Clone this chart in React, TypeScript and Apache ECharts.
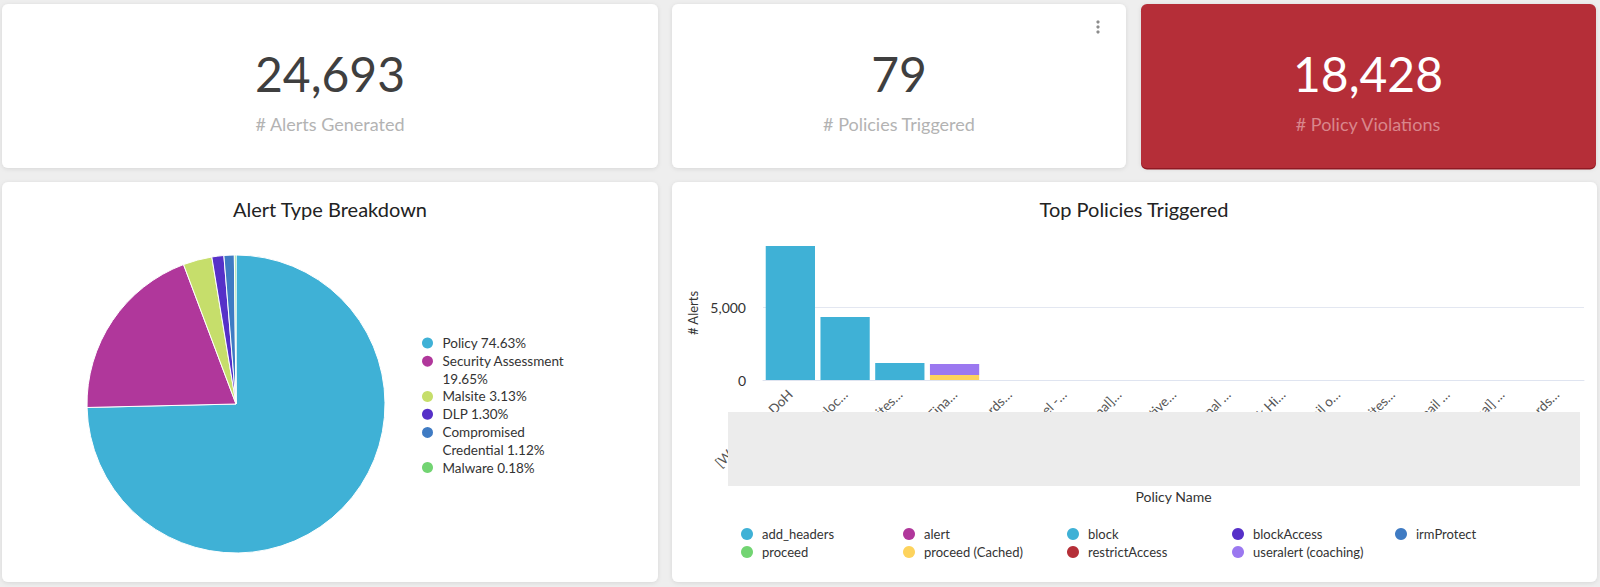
import React, { useEffect, useRef } from 'react';
import * as echarts from 'echarts';

// ---- KPI cards ----
const kpiValues = ['24,693', '79', '18,428'];
const kpiLabels = ['# Alerts Generated', '# Policies Triggered', '# Policy Violations'];

// ---- Alert Type Breakdown (pie) ----
const alertTypes = ['Policy', 'Security Assessment', 'Malsite', 'DLP', 'Compromised Credential', 'Malware'];
const alertCounts = [18428, 4851, 773, 321, 276, 44];
const alertColors = ['#3fb1d6', '#b0379b', '#c6de6b', '#5630c8', '#3f7bc3', '#72d472'];

// ---- Top Policies Triggered (stacked bars) ----
const policyNames = [
  '[Web] Block DoH',
  '[Web] IP Geolocation',
  '[Web] Bad Sites and Domains',
  '[Web] Warn Financial Services',
  '[DLP] Passwords in Files',
  '[CASB] Tunnel - Proxy',
  '[Web][Internal] Allow List',
  '[DLP] Sensitive Data',
  '[Web] Personal Email',
  '[CASB] Block High Risk Apps',
  '[Web] Webmail on Mobile',
  '[Web] Job Sites Access',
  '[DLP] To Gmail Accounts',
  '[DLP] [Global] Exfiltration',
  '[Web] Passwords in Forms',
];
const actions = [
  'add_headers', 'alert', 'block', 'blockAccess', 'irmProtect',
  'proceed', 'proceed (Cached)', 'restrictAccess', 'useralert (coaching)',
];
const actionColors = [
  '#3fb1d6', '#b0379b', '#3fb1d6', '#5630c8', '#3f7bc3',
  '#72d472', '#fdd35d', '#b52f38', '#9b78f0',
];
const addHeadersValues = [0, 0, 1165, 0, 0, 0, 0, 0, 0, 0, 0, 0, 0, 0, 0];
const alertValues = [0, 0, 0, 0, 0, 0, 3, 0, 0, 0, 2, 0, 0, 1, 0];
const blockValues = [9180, 4315, 0, 0, 0, 0, 0, 0, 0, 0, 0, 2, 0, 0, 0];
const blockAccessValues = [0, 0, 0, 0, 4, 0, 0, 3, 0, 0, 0, 0, 1, 0, 0];
const irmProtectValues = [0, 0, 0, 0, 0, 4, 0, 0, 0, 0, 0, 0, 0, 0, 0];
const proceedValues = [0, 0, 0, 0, 0, 0, 0, 0, 3, 0, 0, 0, 0, 0, 1];
const proceedCachedValues = [0, 0, 0, 340, 0, 0, 0, 0, 0, 0, 0, 0, 0, 0, 0];
const restrictAccessValues = [0, 0, 0, 0, 0, 0, 0, 0, 0, 2, 0, 0, 0, 0, 0];
const useralertValues = [0, 0, 0, 760, 0, 0, 0, 0, 0, 0, 0, 0, 0, 0, 0];
const actionValues = [
  addHeadersValues, alertValues, blockValues, blockAccessValues, irmProtectValues,
  proceedValues, proceedCachedValues, restrictAccessValues, useralertValues,
];
const legendColumns = [
  ['add_headers', 'proceed'],
  ['alert', 'proceed (Cached)'],
  ['block', 'restrictAccess'],
  ['blockAccess', 'useralert (coaching)'],
  ['irmProtect'],
];

const FONT = 'Lato';

export default function App() {
  const ref = useRef<HTMLDivElement>(null);

  useEffect(() => {
    if (!ref.current) return;
    const chart = echarts.init(ref.current, null, { renderer: 'svg' });
    const total = alertCounts.reduce((a, b) => a + b, 0);
    const pieLabel = (name: string) => {
      const idx = alertTypes.indexOf(name);
      return `${name} ${((alertCounts[idx] / total) * 100).toFixed(2)}%`;
    };

    const cards = [
      { x: 2, y: 4, w: 656, h: 164, fill: '#ffffff' },
      { x: 672, y: 4, w: 454, h: 164, fill: '#ffffff' },
      { x: 1141, y: 4, w: 455, h: 164, fill: '#b52f38' },
      { x: 2, y: 182, w: 656, h: 400, fill: '#ffffff' },
      { x: 672, y: 182, w: 925, h: 400, fill: '#ffffff' },
    ];
    const graphics: any[] = [];
    graphics.push({
      type: 'rect', z: -20, shape: { x: 1141, y: 5.5, width: 455, height: 164, r: 6 },
      style: { fill: '#981b25' },
    });
    cards.forEach((c) => {
      graphics.push({
        type: 'rect', z: -10,
        shape: { x: c.x, y: c.y, width: c.w, height: c.h, r: 6 },
        style: {
          fill: c.fill,
          shadowBlur: 4,
          shadowOffsetY: 1,
          shadowColor: 'rgba(0,0,0,0.10)',
        },
      });
    });
    const kpiCenters = [330, 899, 1368];
    kpiValues.forEach((v, i) => {
      const red = i === 2;
      graphics.push({
        type: 'text', z: 10, x: kpiCenters[i], y: 73,
        style: {
          text: v, fill: red ? '#ffffff' : '#3f3f3f',
          fontSize: 48, fontFamily: FONT, align: 'center', verticalAlign: 'middle',
        },
      });
      graphics.push({
        type: 'text', z: 10, x: kpiCenters[i], y: 124,
        style: {
          text: kpiLabels[i], fill: red ? '#d9868c' : '#b3b3b3',
          fontSize: 18, fontFamily: FONT, align: 'center', verticalAlign: 'middle',
        },
      });
    });
    [22, 27, 32].forEach((cy) => {
      graphics.push({ type: 'circle', z: 10, shape: { cx: 1098, cy, r: 1.6 }, style: { fill: '#8c8c8c' } });
    });
    // redaction box over the x axis labels
    graphics.push({
      type: 'rect', z: 100, shape: { x: 728, y: 412, width: 852, height: 74 },
      style: { fill: '#ececec' },
    });

    const barSeries = actions.map((name, i) => ({
      name,
      type: 'bar',
      stack: 'total',
      barCategoryGap: '10%',
      data: actionValues[i],
      itemStyle: { color: actionColors[i] },
    }));

    const barLegends = legendColumns.map((col, i) => ({
      data: col,
      orient: 'vertical',
      left: [736, 898, 1062, 1227, 1390][i],
      top: 521,
      icon: 'circle',
      itemWidth: 20,
      itemHeight: 12,
      itemGap: 2,
      selectedMode: false,
      textStyle: { fontFamily: FONT, fontSize: 13, color: '#333', lineHeight: 16 },
    }));

    // pie legend: one legend component per entry so that the marker of a
    // wrapped entry stays on its first text line
    const LINE = 17.8;
    const LEGEND_WRAP = 132;
    const measure = (s: string) =>
      echarts.format.getTextRect
        ? (echarts.format as any).getTextRect(s, `13.5px ${FONT}`).width
        : s.length * 7;
    let lineCursor = 0;
    const pieLegends = alertTypes.map((name) => {
      const text = pieLabel(name);
      const lines = measure(text) > LEGEND_WRAP ? 2 : 1;
      const top = 343 + LINE * lineCursor - LINE / 2 - 5;
      lineCursor += lines;
      const tall = lines > 1;
      return {
        data: [name],
        orient: 'vertical',
        left: 417,
        top,
        icon: tall
          ? 'path://M0,5.5a5.5,5.5 0 1,0 11,0a5.5,5.5 0 1,0 -11,0Z M5.5,27.9L5.5,28'
          : 'circle',
        itemWidth: 20,
        itemHeight: tall ? 28 : 11,
        selectedMode: false,
        itemStyle: { borderWidth: 0 },
        formatter: pieLabel,
        textStyle: {
          fontFamily: FONT, fontSize: 13.5, color: '#333', lineHeight: LINE,
          width: LEGEND_WRAP, overflow: 'break',
        },
      };
    });

    chart.setOption({
      animation: false,
      backgroundColor: '#eeeeee',
      textStyle: { fontFamily: FONT },
      title: [
        {
          text: 'Alert Type Breakdown', left: 325, top: 194, textAlign: 'center',
          textStyle: { fontFamily: FONT, fontSize: 20, fontWeight: 'normal', color: '#222' },
        },
        {
          text: 'Top Policies Triggered', left: 1129, top: 194, textAlign: 'center',
          textStyle: { fontFamily: FONT, fontSize: 20, fontWeight: 'normal', color: '#222' },
        },
      ],
      legend: [...pieLegends, ...barLegends],
      grid: { left: 763, right: 16, top: 246, bottom: 207, outerBoundsMode: 'none' },
      xAxis: {
        type: 'category',
        data: policyNames,
        name: 'Policy Name',
        nameLocation: 'middle',
        nameGap: 109,
        nameTextStyle: { fontFamily: FONT, fontSize: 14, color: '#333' },
        axisTick: { show: false },
        axisLine: { lineStyle: { color: '#dfe4f0' } },
        axisLabel: {
          interval: 0,
          rotate: 45,
          margin: 12,
          fontFamily: FONT,
          fontSize: 13.5,
          color: '#555',
          formatter: (v: string) => (v.length > 15 ? v.slice(0, 15) + '…' : v),
        },
      },
      yAxis: {
        type: 'value',
        min: 0,
        max: 'dataMax',
        interval: 5000,
        name: '# Alerts',
        nameLocation: 'middle',
        nameGap: 60,
        nameTextStyle: { fontFamily: FONT, fontSize: 13, color: '#333' },
        axisLine: { show: false },
        axisTick: { show: false },
        splitLine: { showMaxLine: false, lineStyle: { color: '#e3e7f1' } },
        axisLabel: {
          showMaxLabel: false,
          margin: 17,
          fontFamily: FONT,
          fontSize: 14,
          color: '#333',
          formatter: (v: number) => v.toLocaleString('en-US'),
        },
      },
      series: [
        {
          name: 'Alert Type',
          type: 'pie',
          center: [236, 404],
          radius: 149,
          startAngle: 90,
          clockwise: true,
          label: { show: false },
          labelLine: { show: false },
          itemStyle: { borderColor: '#ffffff', borderWidth: 1 },
          data: alertTypes.map((n, i) => ({
            name: n, value: alertCounts[i], itemStyle: { color: alertColors[i] },
          })),
        },
        ...barSeries,
      ],
      graphic: { elements: graphics },
    });

    return () => chart.dispose();
  }, []);

  return (
    <div
      ref={ref}
      style={{ position: 'absolute', left: 0, top: 0, width: 1600, height: 587 }}
    />
  );
}
